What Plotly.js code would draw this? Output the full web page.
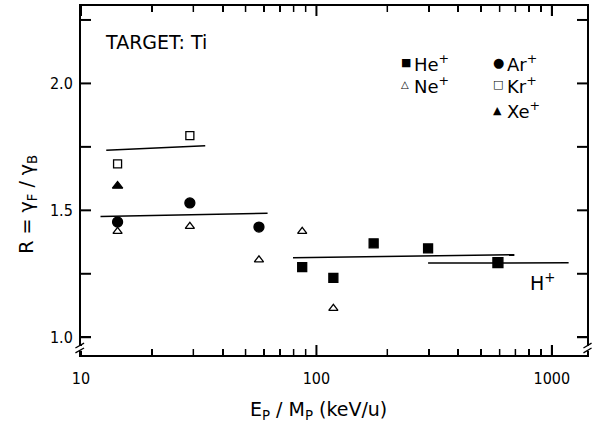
<!DOCTYPE html>
<html><head><meta charset="utf-8">
<script src="https://cdn.plot.ly/plotly-3.0.1.min.js"></script>
<style>html,body{margin:0;padding:0;background:#fff}#chart{width:593px;height:423px}</style>
</head><body><div id="chart"></div>
<script>
// Data (E_P/M_P in keV/u, R = gamma_F / gamma_B)
const heX = [87, 118, 175, 298];
const heY = [1.276, 1.234, 1.370, 1.350];
const neX = [14.3, 29, 57, 87, 118];
const neY = [1.417, 1.437, 1.305, 1.417, 1.114];
const arX = [14.3, 29, 57];
const arY = [1.454, 1.529, 1.434];
const krX = [14.3, 29];
const krY = [1.683, 1.794];
const xeX = [14.3];
const xeY = [1.596];
const hX = [590];
const hY = [1.294];
// Mean-value lines
const krFitX = [12.8, 33.7], krFitY = [1.737, 1.754];
const arNeFitX = [12.1, 62], arNeFitY = [1.476, 1.488];
const heFitX = [79.5, 693], heFitY = [1.313, 1.325];
const hFitX = [298, 1178], hFitY = [1.292, 1.293];
// Axis ticks
const xTickVals = [10, 100, 1000];
const xTickText = ['10', '100', '1000'];
const xMinorVals = [20, 30, 40, 50, 60, 70, 80, 90, 200, 300, 400, 500, 600, 700, 800, 900];
const yTickVals = [1.0, 1.5, 2.0];
const yTickText = ['1.0', '1.5', '2.0'];
const yMinorVals = [1.25, 1.75, 2.25];

const FONT = '"DejaVu Sans", sans-serif';
const TFONT = '"DejaVu Sans Condensed", "DejaVu Sans", sans-serif';
const M = {l: 81, r: 6, t: 6, b: 68};
const PW = 593 - M.l - M.r, PH = 423 - M.t - M.b;
const XR = [1, Math.log10(1410)];
const YR = [0.93, 2.305];

function line(x, y) { return {x, y, mode: 'lines', type: 'scatter', line: {color: '#000', width: 1.5}}; }
function pts(x, y, sym, size) { return {x, y, mode: 'markers', type: 'scatter', marker: {symbol: sym, size: size, color: '#000', line: {color: '#000', width: 1.3}}}; }

const data = [
  line(krFitX, krFitY), line(arNeFitX, arNeFitY), line(heFitX, heFitY), line(hFitX, hFitY),
  pts(heX, heY, 'square', 9),
  pts(neX, neY, 'triangle-up-open', 8),
  pts(arX, arY, 'circle', 10),
  pts(krX, krY, 'square-open', 8),
  pts(xeX, xeY, 'triangle-up', 9),
  pts(hX, hY, 'square', 10)
];

// tick marks (inside, all four sides), placed via the axis range transform
const xToPaper = v => (Math.log10(v) - XR[0]) / (XR[1] - XR[0]);
const yToPaper = v => (v - YR[0]) / (YR[1] - YR[0]);
const shapes = [];
function xTick(v, lenPx, w) {
  const p = xToPaper(v), f = lenPx / PH;
  shapes.push({type: 'line', xref: 'paper', yref: 'paper', x0: p, x1: p, y0: 0, y1: f, line: {color: '#000', width: w}});
  shapes.push({type: 'line', xref: 'paper', yref: 'paper', x0: p, x1: p, y0: 1, y1: 1 - f, line: {color: '#000', width: w}});
}
function yTick(v, lenPx, w) {
  const p = yToPaper(v), f = lenPx / PW;
  shapes.push({type: 'line', xref: 'paper', yref: 'paper', x0: 0, x1: f, y0: p, y1: p, line: {color: '#000', width: w}});
  shapes.push({type: 'line', xref: 'paper', yref: 'paper', x0: 1, x1: 1 - f, y0: p, y1: p, line: {color: '#000', width: w}});
}
xTickVals.forEach(v => xTick(v, 10, 2));
xMinorVals.forEach(v => xTick(v, 6, 1.5));
yTickVals.forEach(v => yTick(v, 10, 2));
yMinorVals.forEach(v => yTick(v, 10, 2));
// axis break marks
shapes.push(
  {type: 'line', xref: 'paper', yref: 'paper', x0: 0, y0: 0.012, x1: 0, y1: 0.026, line: {color: '#fff', width: 4}},
  {type: 'line', xref: 'paper', yref: 'paper', x0: -0.011, y0: 0.02, x1: 0.006, y1: 0.034, line: {color: '#000', width: 1.3}},
  {type: 'line', xref: 'paper', yref: 'paper', x0: -0.011, y0: 0.006, x1: 0.006, y1: 0.02, line: {color: '#000', width: 1.3}},
  {type: 'line', xref: 'paper', yref: 'paper', x0: 1, y0: 0.012, x1: 1, y1: 0.026, line: {color: '#fff', width: 4}},
  {type: 'line', xref: 'paper', yref: 'paper', x0: 0.993, y0: 0.006, x1: 1.009, y1: 0.02, line: {color: '#000', width: 1.3}},
  {type: 'line', xref: 'paper', yref: 'paper', x0: 0.993, y0: 0.02, x1: 1.009, y1: 0.034, line: {color: '#000', width: 1.3}}
);

const ann = (x, y, text, size, extra) => Object.assign({xref: 'paper', yref: 'paper', x, y, xanchor: 'left', yanchor: 'middle', text, showarrow: false, font: {family: FONT, size: size, color: '#000'}}, extra || {});

const layout = {
  width: 593, height: 423,
  margin: M,
  paper_bgcolor: '#fff', plot_bgcolor: '#fff',
  showlegend: false,
  font: {family: FONT, color: '#000', size: 16},
  xaxis: {
    type: 'log', range: XR,
    showline: true, linecolor: '#000', linewidth: 2, mirror: 'ticks',
    showgrid: false, zeroline: false,
    ticks: 'inside', ticklen: 10, tickwidth: 1.5, tickcolor: '#000',
    tickmode: 'array', tickvals: xTickVals, ticktext: xTickText,
    tickfont: {family: TFONT, size: 16, color: '#000'}, ticklabelstandoff: 8,
    minor: {ticks: 'inside', ticklen: 6, tickcolor: '#000', dtick: 'D1', showgrid: false}
  },
  yaxis: {
    range: YR,
    showline: true, linecolor: '#000', linewidth: 2, mirror: 'ticks',
    showgrid: false, zeroline: false,
    ticks: 'inside', ticklen: 10, tickwidth: 1.5, tickcolor: '#000',
    tickmode: 'array', tickvals: yTickVals, ticktext: yTickText,
    tickfont: {family: TFONT, size: 16, color: '#000'}, ticklabelstandoff: 3
  },
  annotations: [
    ann(0.0435, 0.897, 'TARGET: Ti', 19),
    ann(0.628, 0.837, '■', 11), ann(0.655, 0.837, 'He<sup>+</sup>', 18),
    ann(0.810, 0.837, '●', 13), ann(0.838, 0.837, 'Ar<sup>+</sup>', 18),
    ann(0.628, 0.774, '△', 10), ann(0.655, 0.774, 'Ne<sup>+</sup>', 18),
    ann(0.810, 0.774, '□', 11), ann(0.838, 0.774, 'Kr<sup>+</sup>', 18),
    ann(0.810, 0.702, '▲', 11), ann(0.838, 0.702, 'Xe<sup>+</sup>', 18),
    ann(0.913, 0.209, 'H<sup>+</sup>', 19, {xanchor: 'center'}),
    ann(-0.105, 0.433, 'R = γ<sub>F</sub> / γ<sub>B</sub>', 19, {xanchor: 'center', textangle: -90}),
    ann(0.470, -0.158, 'E<sub>P</sub> / M<sub>P</sub> (keV/u)', 19, {xanchor: 'center'})
  ],
  shapes: shapes
};

Plotly.newPlot('chart', data, layout, {displayModeBar: false, staticPlot: true});
</script>
</body></html>
